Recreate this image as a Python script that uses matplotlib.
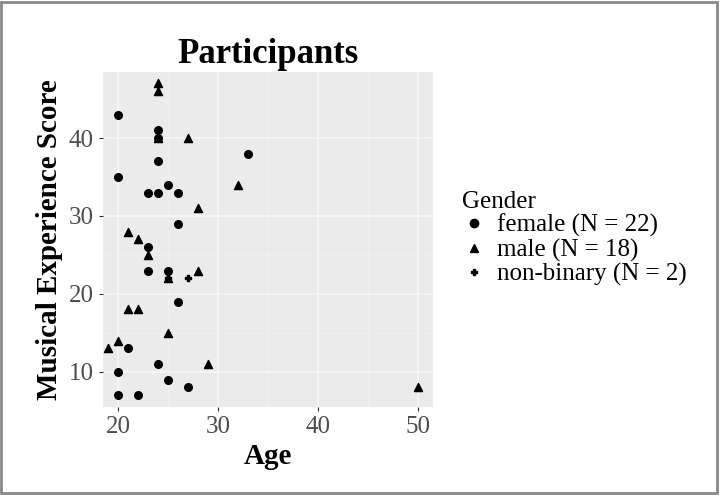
import matplotlib
matplotlib.use("Agg")
import matplotlib.pyplot as plt
from matplotlib.lines import Line2D
from matplotlib.patches import Rectangle

plt.rcParams['font.family'] = ['Liberation Serif', 'DejaVu Serif']

female_age = [20, 20, 20, 20, 21, 22, 23, 23, 23, 24, 24, 24, 24, 25, 25, 25, 26, 26, 26, 27, 33, 24]
female_score = [43, 35, 10, 7, 13, 7, 33, 26, 23, 41, 37, 33, 11, 34, 23, 9, 33, 29, 19, 8, 38, 40]
male_age = [24, 24, 24, 27, 32, 28, 21, 22, 23, 28, 25, 21, 22, 25, 20, 19, 29, 50]
male_score = [47, 46, 40, 40, 34, 31, 28, 27, 25, 23, 22, 18, 18, 15, 14, 13, 11, 8]
nb_age = [27, 25]
nb_score = [22, 22]
labels = ["female (N = 22)", "male (N = 18)", "non-binary (N = 2)"]

fig = plt.figure(figsize=(7.2, 4.95), dpi=100)
fig.patches.append(Rectangle((0.002, 0.004), 0.994, 0.992, transform=fig.transFigure,
                             fill=False, ec='#888888', lw=2))
ax = fig.add_axes([0.143, 0.178, 0.458, 0.677])
ax.set_facecolor('#EBEBEB')
ax.scatter(female_age, female_score, marker='o', s=30, c='black', zorder=3)
ax.scatter(male_age, male_score, marker='^', s=34, c='black', zorder=3)
ax.scatter(nb_age, nb_score, marker='P', s=14, c='black', zorder=3)
ax.set_xlim(18.5, 51.5)
ax.set_ylim(5.5, 48.5)
ax.set_xticks([20, 30, 40, 50])
ax.set_yticks([10, 20, 30, 40])
ax.set_xticks([25, 35, 45], minor=True)
ax.set_yticks([15, 25, 35, 45], minor=True)
ax.grid(True, which='major', color='#F7F7F7', lw=1.1, zorder=0)
ax.grid(True, which='minor', color='#F2F2F2', lw=0.5, zorder=0)
ax.set_axisbelow(True)
for s in ax.spines.values():
    s.set_visible(False)
ax.tick_params(which='both', length=3, color='#333333', labelsize=18, labelcolor='#4D4D4D')
ax.tick_params(which='minor', length=0)
ax.set_xlabel("Age", fontsize=21, fontweight='bold')
ax.set_ylabel("Musical Experience Score", fontsize=21, fontweight='bold')
ax.set_title("Participants", fontsize=25, fontweight='bold')

handles = [Line2D([], [], marker='o', ls='', color='black', ms=6),
           Line2D([], [], marker='^', ls='', color='black', ms=6),
           Line2D([], [], marker='P', ls='', color='black', ms=4)]
leg = fig.legend(handles, labels, title="Gender", loc='upper left',
                 bbox_to_anchor=(0.61, 0.66), frameon=False, fontsize=18,
                 title_fontsize=18, handletextpad=0.4, labelspacing=0.05,
                 handlelength=1.0)
leg._legend_box.align = "left"
fig.savefig("out.png", dpi=100)
